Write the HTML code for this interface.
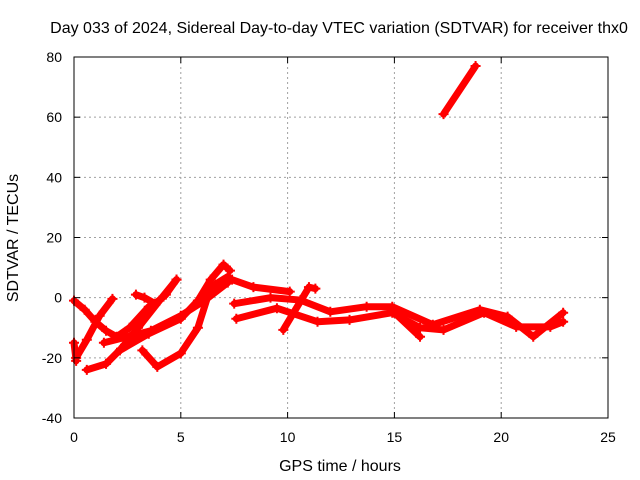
<!DOCTYPE html>
<html><head><meta charset="utf-8"><style>
body{margin:0;background:#fff}
svg{display:block;font-family:"Liberation Sans",sans-serif}
</style></head><body>
<svg id="chart" width="640" height="480">
<rect width="640" height="480" fill="#fff"/>
<text x="339" y="33" font-size="16" text-anchor="middle">Day 033 of 2024, Sidereal Day-to-day VTEC variation (SDTVAR) for receiver thx0</text>
<text x="340" y="471" font-size="16" text-anchor="middle">GPS time / hours</text>
<text transform="translate(18,238) rotate(-90)" font-size="16" text-anchor="middle">SDTVAR / TECUs</text>
<g id="grid"></g><g id="series"></g><g id="axes"></g>
</svg>
<script>
const xTicks=[0,5,10,15,20,25];
const yTicks=[-40,-20,0,20,40,60,80];
const s1x=[0,0.5,1,1.5,2,2.6,3.5];const s1y=[-1,-4,-8,-11,-13,-10,-3];
const s2x=[0.1,0.6,1.2,1.8];const s2y=[-20,-14,-6,-0.4];
const s3x=[0.6,1.5,2.2,3,4,4.8];const s3y=[-24,-22,-17,-10,-1,6];
const s4x=[2.9,3.3,3.8,4.3,4.8];const s4y=[1,0,-2,1,6];
const s5x=[2.15,3.5,5,5.8,6.4,7,7.3];const s5y=[-17.5,-12,-7,-1,6,11,9];
const s6x=[3.2,3.9,5,5.8,6.4,7.2];const s6y=[-17.5,-23,-18.5,-10,3.5,7];
const s7x=[1.4,3.6,5,6.1,7.2];const s7y=[-15,-11,-6,-1,5];
const s8x=[7.4,8.4,10.1];const s8y=[6,3.5,2];
const s9x=[7.5,9.2,10.6,12,13.7,14.9,16.8,19,20.3,21.5,22.9];const s9y=[-2,0,-0.8,-4.7,-3,-3,-9,-4,-6.3,-13,-5];
const s10x=[7.6,9.5,11.4,12.9,14.9,16.2,17.3,19.2,20.7,22.3,22.9];const s10y=[-7,-3.5,-8,-7.4,-5,-10,-10.7,-5,-9.7,-9.7,-8];
const s11x=[9.8,11,11.3];const s11y=[-10.7,3.5,3];
const s12x=[15,16.2];const s12y=[-5,-13];
const s13x=[0,0.1];const s13y=[-15,-21];
const s14x=[17.3,18.8];const s14y=[61,77];
const seriesX=[s1x,s2x,s3x,s4x,s5x,s6x,s7x,s8x,s9x,s10x,s11x,s12x,s13x,s14x];
const seriesY=[s1y,s2y,s3y,s4y,s5y,s6y,s7y,s8y,s9y,s10y,s11y,s12y,s13y,s14y];
const L=74,R=608,T=57,B=418;
const X=v=>L+(v-0)/25*(R-L);
const Y=v=>B-(v+40)/120*(B-T);
const NS="http://www.w3.org/2000/svg";
function mk(tag,attrs,parent){const e=document.createElementNS(NS,tag);for(const k in attrs)e.setAttribute(k,attrs[k]);parent.appendChild(e);return e;}
const grid=document.getElementById('grid'),axes=document.getElementById('axes'),ser=document.getElementById('series');
xTicks.forEach(t=>{
 if(t>0&&t<25){const g=mk('line',{x1:X(t),x2:X(t),y1:T,y2:B,stroke:'#a0a0a0','stroke-dasharray':'2,3'},grid);
 
 }
 mk('line',{x1:X(t),x2:X(t),y1:B,y2:B-6,stroke:'#000'},axes);
 mk('line',{x1:X(t),x2:X(t),y1:T,y2:T+6,stroke:'#000'},axes);
 const tx=mk('text',{x:X(t),y:B+24,'font-size':14,'text-anchor':'middle'},axes);tx.textContent=t;
 
 
});
yTicks.forEach(t=>{
 if(t>-40&&t<80){const g=mk('line',{x1:L,x2:R,y1:Y(t),y2:Y(t),stroke:'#a0a0a0','stroke-dasharray':'2,3'},grid);
 
 }
 mk('line',{x1:L,x2:L+6,y1:Y(t),y2:Y(t),stroke:'#000'},axes);
 mk('line',{x1:R,x2:R-6,y1:Y(t),y2:Y(t),stroke:'#000'},axes);
 const tx=mk('text',{x:L-12,y:Y(t)+5,'font-size':14,'text-anchor':'end'},axes);tx.textContent=t;
 
 
});
const fr=mk('rect',{x:L,y:T,width:R-L,height:B-T,fill:'none',stroke:'#000'},axes);


seriesX.forEach((xs,i)=>{
 const ys=seriesY[i];
 const pts=xs.map((x,j)=>X(x)+','+Y(ys[j])).join(' ');
 const p=mk('polyline',{points:pts,fill:'none',stroke:'#f00','stroke-width':7,'stroke-linejoin':'round','stroke-linecap':'round'},ser);
 
 
 xs.forEach((x,j)=>{
  const cx=X(x),cy=Y(ys[j]);
  const m=mk('path',{d:`M${cx-5},${cy}H${cx+5}M${cx},${cy-5}V${cy+5}`,stroke:'#f00','stroke-width':2},ser);
  
  
 });
});
</script>
</body></html>
